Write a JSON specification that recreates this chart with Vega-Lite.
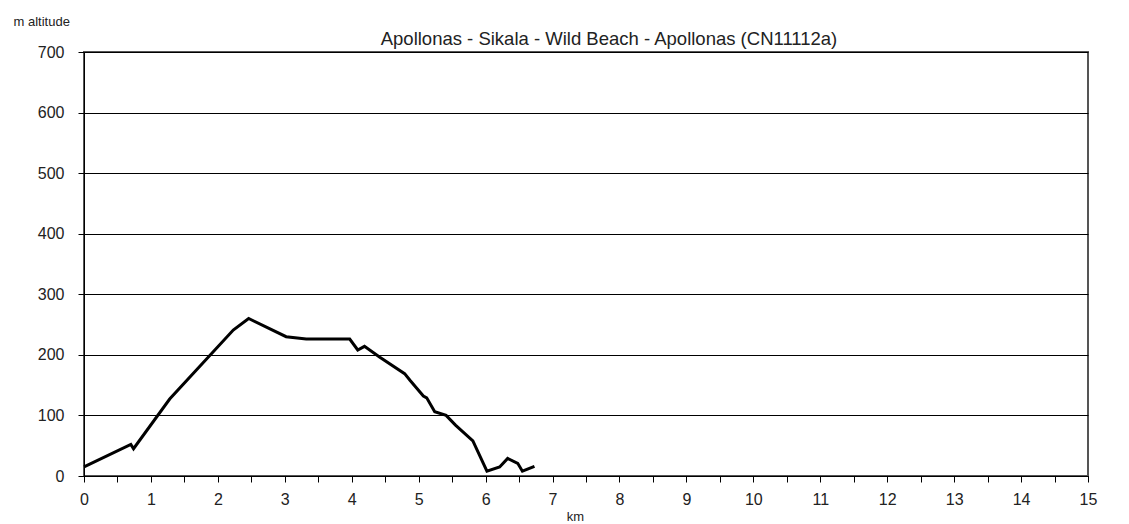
{
  "$schema": "https://vega.github.io/schema/vega-lite/v6.json",
  "width": 1004,
  "height": 424,
  "autosize": "none",
  "padding": {"left": 84, "top": 52, "right": 41, "bottom": 48},
  "background": "white",
  "config": {
    "font": "Liberation Sans",
    "view": {"stroke": "#555555", "strokeWidth": 2}
  },
  "title": {
    "text": "Apollonas - Sikala - Wild Beach - Apollonas (CN11112a)",
    "fontSize": 18.5,
    "fontWeight": "normal",
    "color": "#222222",
    "anchor": "middle",
    "dx": 23,
    "dy": 39,
    "offset": 6
  },
  "data": {
    "values": [
      {"km": 0.0, "alt": 15},
      {"km": 0.70, "alt": 52},
      {"km": 0.74, "alt": 45},
      {"km": 1.28, "alt": 127},
      {"km": 2.23, "alt": 241},
      {"km": 2.46, "alt": 260},
      {"km": 3.02, "alt": 230},
      {"km": 3.32, "alt": 226},
      {"km": 3.97, "alt": 226},
      {"km": 4.09, "alt": 208},
      {"km": 4.19, "alt": 214},
      {"km": 4.42, "alt": 196},
      {"km": 4.79, "alt": 169},
      {"km": 4.87, "alt": 158},
      {"km": 5.07, "alt": 132},
      {"km": 5.12, "alt": 129},
      {"km": 5.24, "alt": 106},
      {"km": 5.41, "alt": 100},
      {"km": 5.55, "alt": 84},
      {"km": 5.81, "alt": 58},
      {"km": 6.02, "alt": 8},
      {"km": 6.21, "alt": 15},
      {"km": 6.33, "alt": 29},
      {"km": 6.48, "alt": 21},
      {"km": 6.55, "alt": 8},
      {"km": 6.73, "alt": 16}
    ]
  },
  "mark": {"type": "line", "color": "black", "strokeWidth": 3},
  "encoding": {
    "x": {
      "field": "km",
      "type": "quantitative",
      "scale": {"domain": [0, 15], "nice": false, "zero": false},
      "axis": {
        "title": "km",
        "titleFontSize": 13,
        "titleFontWeight": "normal",
        "titleColor": "#222222",
        "titleX": 491,
        "titleY": 44,
        "titleBaseline": "alphabetic",
        "values": [0, 0.5, 1, 1.5, 2, 2.5, 3, 3.5, 4, 4.5, 5, 5.5, 6, 6.5, 7, 7.5, 8, 8.5, 9, 9.5, 10, 10.5, 11, 11.5, 12, 12.5, 13, 13.5, 14, 14.5, 15],
        "labelExpr": "datum.value % 1 == 0 ? format(datum.value, 'd') : ''",
        "grid": false,
        "domainColor": "black",
        "tickColor": "black",
        "tickSize": 6,
        "labelPadding": 9,
        "labelFontSize": 16,
        "labelColor": "#222222",
        "labelFlush": false,
        "labelOverlap": false,
        "encode": {"ticks": {"update": {"y": {"value": -6}}}}
      }
    },
    "y": {
      "field": "alt",
      "type": "quantitative",
      "scale": {"domain": [0, 700], "nice": false},
      "axis": {
        "title": "m altitude",
        "titleFontSize": 13,
        "titleFontWeight": "normal",
        "titleColor": "#222222",
        "titleAngle": 0,
        "titleAlign": "left",
        "titleBaseline": "alphabetic",
        "titleX": -71,
        "titleY": -27,
        "values": [0, 100, 200, 300, 400, 500, 600, 700],
        "grid": true,
        "gridColor": "black",
        "gridOpacity": 1,
        "gridWidth": 1,
        "domainColor": "black",
        "tickColor": "black",
        "tickSize": 6,
        "labelPadding": 14,
        "labelFontSize": 16,
        "labelColor": "#222222"
      }
    }
  }
}
